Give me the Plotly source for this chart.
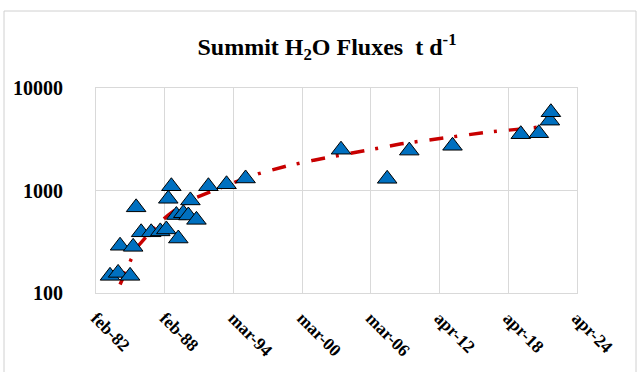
import plotly.graph_objects as go

# Observed summit H2O flux points (decimal year, t/d)
obs_year = [1983.34, 1984.05, 1985.10, 1984.22, 1985.37, 1985.63, 1986.07, 1986.95,
            1987.75, 1988.28, 1989.33, 1988.72, 1988.45, 1990.39, 1989.16, 1989.77,
            1990.21, 1990.92, 1991.97, 1993.56, 1995.23, 2003.60, 2007.65, 2009.59,
            2013.38, 2019.37, 2020.95, 2021.92, 2022.01]
obs_flux = [147, 157, 147, 289, 282, 685, 391, 391,
            399, 417, 340, 1100, 830, 800, 576, 600,
            570, 517, 1100, 1150, 1310, 2500, 1300, 2450,
            2730, 3540, 3620, 4800, 5800]

# Trend line
trend_year = [1984.22, 1985.19, 1985.81, 1986.69, 1987.31, 1988.45, 1989.60, 1990.65,
              1991.71, 1992.86, 1994.00, 1996.38, 1998.84, 2001.22, 2003.87, 2006.33,
              2008.89, 2011.35, 2013.82, 2016.37, 2019.01, 2021.48]
trend_flux = [121, 213, 288, 374, 445, 576, 715, 832,
              927, 1055, 1176, 1459, 1735, 1977, 2250, 2560,
              2853, 3111, 3395, 3700, 3948, 4210]

x_tick_vals = [1982.11, 1988.14, 1994.16, 2000.19, 2006.22, 2012.24, 2018.27, 2024.30]
x_tick_text = ["feb-82", "feb-88", "mar-94", "mar-00", "mar-06", "apr-12", "apr-18", "apr-24"]
y_tick_vals = [100, 1000, 10000]
y_tick_text = ["100", "1000", "10000"]

serif = "Times New Roman, Liberation Serif, serif"

fig = go.Figure()
fig.add_trace(go.Scatter(
    x=trend_year, y=trend_flux, mode="lines",
    line=dict(color="#C80000", width=3.5, dash="14px,11px,3px,12px"),
    hoverinfo="skip", showlegend=False))
fig.add_trace(go.Scatter(
    x=obs_year, y=obs_flux, mode="markers",
    marker=dict(symbol="triangle-up", size=17, color="#0070C0",
                line=dict(color="#000000", width=1)),
    showlegend=False))

fig.update_layout(
    width=641, height=372,
    margin=dict(l=96, r=64, t=88, b=71),
    paper_bgcolor="white", plot_bgcolor="white",
    title=dict(text="<b>Summit H<sub>2</sub>O Fluxes\u00a0\u00a0t d<sup>-1</sup></b>",
               x=327/641, xref="container", xanchor="center",
               y=1-47/372, yref="container", yanchor="middle",
               font=dict(family=serif, size=24, color="#000000")),
    xaxis=dict(range=[x_tick_vals[0], x_tick_vals[-1]], tickmode="array",
               tickvals=x_tick_vals, ticktext=x_tick_text, tickangle=45,
               tickfont=dict(family=serif, size=17.5, color="#000000", weight="bold"),
               showgrid=True, gridcolor="#D9D9D9", gridwidth=1,
               showline=True, linecolor="#D9D9D9", mirror=True,
               zeroline=False, ticks="outside", ticklen=7,
               tickcolor="rgba(255,255,255,0)"),
    yaxis=dict(type="log", range=[2, 4], tickmode="array",
               tickvals=y_tick_vals, ticktext=y_tick_text,
               tickfont=dict(family=serif, size=20, color="#000000", weight="bold"),
               showgrid=True, gridcolor="#D9D9D9", gridwidth=1,
               showline=True, linecolor="#D9D9D9", mirror=True,
               zeroline=False, ticks="outside", ticklen=28,
               tickcolor="rgba(255,255,255,0)"),
    shapes=[dict(type="rect", xref="paper", yref="paper",
                 x0=(4-96)/481, x1=(636-96)/481, y0=-(390-301)/213, y1=(301-8)/213,
                 line=dict(color="#D0D0D0", width=1), fillcolor="rgba(0,0,0,0)",
                 layer="below")],
)

fig.write_html("out.html", config={"displayModeBar": False},
               post_script="document.body.style.margin='0';")
